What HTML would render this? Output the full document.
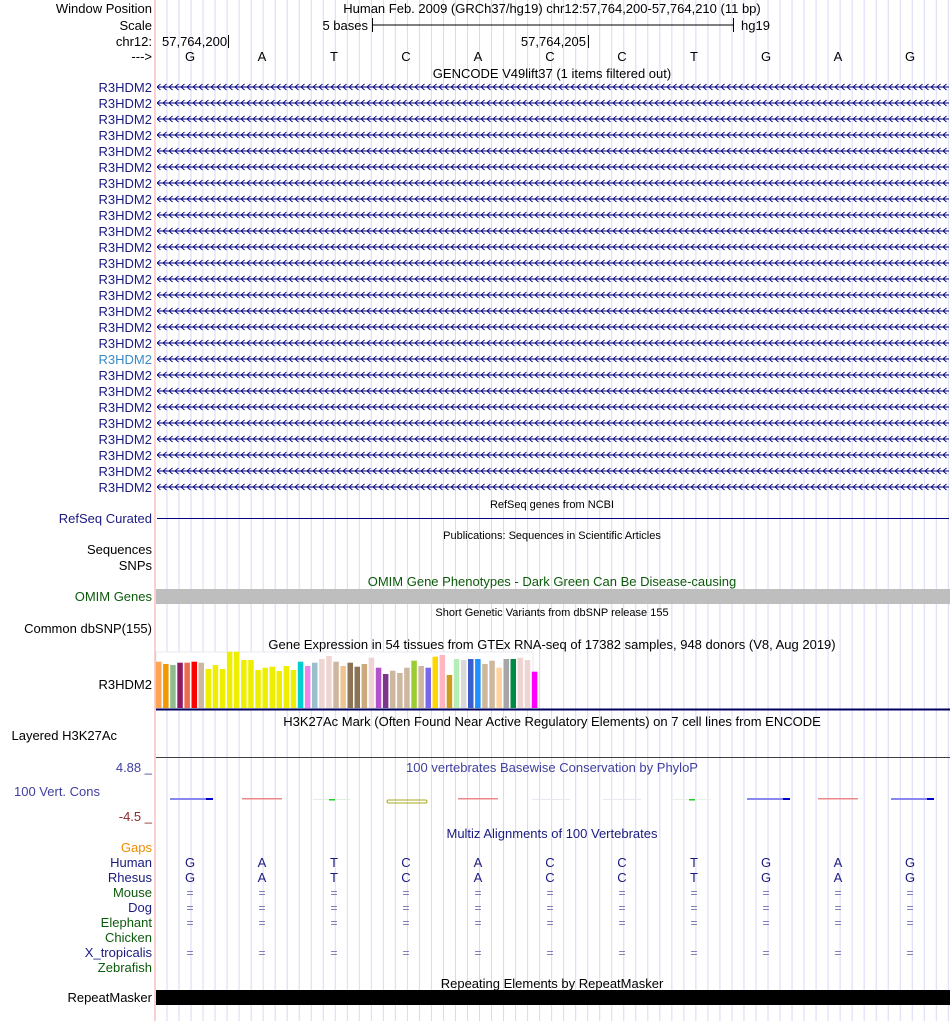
<!DOCTYPE html>
<html><head><meta charset="utf-8"><style>
html,body{margin:0;padding:0;background:#fff}
svg{display:block}
text{font-family:"Liberation Sans",Arial,sans-serif}
</style></head><body>
<svg width="950" height="1021" viewBox="0 0 950 1021" xmlns="http://www.w3.org/2000/svg">
<defs>
<pattern id="grid" patternUnits="userSpaceOnUse" x="166.5" y="0" width="12.02" height="10">
<rect x="0" y="0" width="1" height="10" fill="#d8d8f4"/>
</pattern>
<pattern id="chev" patternUnits="userSpaceOnUse" x="0" y="-4" width="6" height="8">
<path d="M4.5,1 L1,4 L4.5,7" fill="none" stroke="#000080" stroke-width="0.9"/>
</pattern>
<g id="gene"><rect x="157" y="-0.5" width="792" height="1" fill="#000080"/><rect x="157" y="-4" width="792" height="8" fill="url(#chev)"/></g>
</defs>
<rect x="156" y="0" width="794" height="1021" fill="url(#grid)"/>
<rect x="154.5" y="0" width="1" height="1021" fill="#f4a0a0"/>

<g font-size="13" text-anchor="end" fill="#000">
<text x="152" y="13">Window Position</text>
<text x="152" y="30">Scale</text>
<text x="152" y="46">chr12:</text>
<text x="152" y="61">---&gt;</text>
</g>
<text x="552" y="13" font-size="13" text-anchor="middle">Human Feb. 2009 (GRCh37/hg19)   chr12:57,764,200-57,764,210 (11 bp)</text>
<text x="368" y="30" font-size="13" text-anchor="end">5 bases</text>
<rect x="372" y="24.5" width="361" height="1" fill="#000"/>
<rect x="372" y="18" width="1" height="14" fill="#000"/>
<rect x="733" y="18" width="1" height="14" fill="#000"/>
<text x="741" y="30" font-size="13">hg19</text>
<text x="162" y="46" font-size="13">57,764,200</text>
<rect x="228" y="35" width="1" height="13" fill="#000"/>
<text x="586" y="46" font-size="13" text-anchor="end">57,764,205</text>
<rect x="588" y="35" width="1" height="13" fill="#000"/>
<g font-size="13" text-anchor="middle">
<text x="190" y="61">G</text><text x="262" y="61">A</text><text x="334" y="61">T</text><text x="406" y="61">C</text><text x="478" y="61">A</text><text x="550" y="61">C</text><text x="622" y="61">C</text><text x="694" y="61">T</text><text x="766" y="61">G</text><text x="838" y="61">A</text><text x="910" y="61">G</text>
</g>
<text x="552" y="78" font-size="13" text-anchor="middle">GENCODE V49lift37 (1 items filtered out)</text>

<g font-size="13" text-anchor="end" fill="#1a1a80">
<text x="152" y="92">R3HDM2</text><text x="152" y="108">R3HDM2</text><text x="152" y="124">R3HDM2</text><text x="152" y="140">R3HDM2</text><text x="152" y="156">R3HDM2</text><text x="152" y="172">R3HDM2</text><text x="152" y="188">R3HDM2</text><text x="152" y="204">R3HDM2</text><text x="152" y="220">R3HDM2</text><text x="152" y="236">R3HDM2</text><text x="152" y="252">R3HDM2</text><text x="152" y="268">R3HDM2</text><text x="152" y="284">R3HDM2</text><text x="152" y="300">R3HDM2</text><text x="152" y="316">R3HDM2</text><text x="152" y="332">R3HDM2</text><text x="152" y="348">R3HDM2</text><text x="152" y="364" fill="#3a8ac8">R3HDM2</text><text x="152" y="380">R3HDM2</text><text x="152" y="396">R3HDM2</text><text x="152" y="412">R3HDM2</text><text x="152" y="428">R3HDM2</text><text x="152" y="444">R3HDM2</text><text x="152" y="460">R3HDM2</text><text x="152" y="476">R3HDM2</text><text x="152" y="492">R3HDM2</text>
</g>
<use href="#gene" y="87"/><use href="#gene" y="103"/><use href="#gene" y="119"/><use href="#gene" y="135"/><use href="#gene" y="151"/><use href="#gene" y="167"/><use href="#gene" y="183"/><use href="#gene" y="199"/><use href="#gene" y="215"/><use href="#gene" y="231"/><use href="#gene" y="247"/><use href="#gene" y="263"/><use href="#gene" y="279"/><use href="#gene" y="295"/><use href="#gene" y="311"/><use href="#gene" y="327"/><use href="#gene" y="343"/><use href="#gene" y="359"/><use href="#gene" y="375"/><use href="#gene" y="391"/><use href="#gene" y="407"/><use href="#gene" y="423"/><use href="#gene" y="439"/><use href="#gene" y="455"/><use href="#gene" y="471"/><use href="#gene" y="487"/>

<text x="552" y="508" font-size="11" text-anchor="middle">RefSeq genes from NCBI</text>
<text x="152" y="523" font-size="13" text-anchor="end" fill="#1a1a80">RefSeq Curated</text>
<rect x="157" y="518" width="792" height="1" fill="#000080"/>
<text x="552" y="539" font-size="11" text-anchor="middle">Publications: Sequences in Scientific Articles</text>
<text x="152" y="554" font-size="13" text-anchor="end">Sequences</text>
<text x="152" y="570" font-size="13" text-anchor="end">SNPs</text>
<text x="552" y="586" font-size="13" text-anchor="middle" fill="#0b5a0b">OMIM Gene Phenotypes - Dark Green Can Be Disease-causing</text>
<text x="152" y="601" font-size="13" text-anchor="end" fill="#0b5a0b">OMIM Genes</text>
<rect x="156" y="589" width="794" height="15" fill="#bebebe"/>
<text x="552" y="616" font-size="11" text-anchor="middle">Short Genetic Variants from dbSNP release 155</text>
<text x="152" y="633" font-size="13" text-anchor="end">Common dbSNP(155)</text>
<text x="552" y="649" font-size="13" text-anchor="middle">Gene Expression in 54 tissues from GTEx RNA-seq of 17382 samples, 948 donors (V8, Aug 2019)</text>
<text x="152" y="689" font-size="13" text-anchor="end">R3HDM2</text>
<rect x="156" y="652" width="377" height="56" fill="#fff" stroke="#e8e8f0" stroke-width="1"/>
<rect x="156" y="708.5" width="794" height="2" fill="#000060"/>

<text x="552" y="726" font-size="13" text-anchor="middle">H3K27Ac Mark (Often Found Near Active Regulatory Elements) on 7 cell lines from ENCODE</text>
<text x="117" y="740" font-size="13" text-anchor="end">Layered H3K27Ac</text>
<rect x="156" y="757" width="794" height="1" fill="#404040"/>

<text x="552" y="772" font-size="13" text-anchor="middle" fill="#3f3f9f">100 vertebrates Basewise Conservation by PhyloP</text>
<text x="152" y="772" font-size="13" text-anchor="end" fill="#3f3f9f">4.88 _</text>
<text x="100" y="796" font-size="13" text-anchor="end" fill="#3f3f9f">100 Vert. Cons</text>
<text x="152" y="821" font-size="13" text-anchor="end" fill="#8b2a2a">-4.5 _</text>
<g>
<rect x="170" y="798" width="43" height="2" fill="#8888ee"/><rect x="206" y="798" width="7" height="2" fill="#0000cc"/>
<rect x="242" y="798" width="40" height="1.5" fill="#ee8888"/>
<rect x="313" y="799" width="37" height="1" fill="#e0f0e0"/><rect x="329" y="799" width="6" height="1.5" fill="#22cc22"/>
<rect x="387" y="800" width="40" height="3" rx="1.5" fill="none" stroke="#a8a820" stroke-width="1"/>
<rect x="458" y="798" width="40" height="1.5" fill="#ee8888"/>
<rect x="532" y="799" width="38" height="1" fill="#e8e8f0"/>
<rect x="603" y="799" width="38" height="1" fill="#e8e8f0"/>
<rect x="673" y="799" width="38" height="1" fill="#e8f0e8"/><rect x="689" y="799" width="6" height="1.5" fill="#22cc22"/>
<rect x="747" y="798" width="43" height="2" fill="#8888ee"/><rect x="783" y="798" width="7" height="2" fill="#0000cc"/>
<rect x="818" y="798" width="40" height="1.5" fill="#ee8888"/>
<rect x="891" y="798" width="43" height="2" fill="#8888ee"/><rect x="927" y="798" width="7" height="2" fill="#0000cc"/>
</g>

<text x="552" y="838" font-size="13" text-anchor="middle" fill="#1a1a80">Multiz Alignments of 100 Vertebrates</text>
<g font-size="13" text-anchor="end">
<text x="152" y="852" fill="#f08c00">Gaps</text>
<text x="152" y="867" fill="#1a1a80">Human</text>
<text x="152" y="882" fill="#1a1a80">Rhesus</text>
<text x="152" y="897" fill="#0b5a0b">Mouse</text>
<text x="152" y="912" fill="#1a1a80">Dog</text>
<text x="152" y="927" fill="#0b5a0b">Elephant</text>
<text x="152" y="942" fill="#0b5a0b">Chicken</text>
<text x="152" y="957" fill="#1a1a80">X_tropicalis</text>
<text x="152" y="972" fill="#0b5a0b">Zebrafish</text>
</g>
<g font-size="13" text-anchor="middle" fill="#1a1a80">
<text x="190" y="867">G</text><text x="262" y="867">A</text><text x="334" y="867">T</text><text x="406" y="867">C</text><text x="478" y="867">A</text><text x="550" y="867">C</text><text x="622" y="867">C</text><text x="694" y="867">T</text><text x="766" y="867">G</text><text x="838" y="867">A</text><text x="910" y="867">G</text>
<text x="190" y="882">G</text><text x="262" y="882">A</text><text x="334" y="882">T</text><text x="406" y="882">C</text><text x="478" y="882">A</text><text x="550" y="882">C</text><text x="622" y="882">C</text><text x="694" y="882">T</text><text x="766" y="882">G</text><text x="838" y="882">A</text><text x="910" y="882">G</text>
</g>
<g font-size="12" text-anchor="middle" fill="#7070b0">
<text x="190" y="897">=</text><text x="262" y="897">=</text><text x="334" y="897">=</text><text x="406" y="897">=</text><text x="478" y="897">=</text><text x="550" y="897">=</text><text x="622" y="897">=</text><text x="694" y="897">=</text><text x="766" y="897">=</text><text x="838" y="897">=</text><text x="910" y="897">=</text>
<text x="190" y="912">=</text><text x="262" y="912">=</text><text x="334" y="912">=</text><text x="406" y="912">=</text><text x="478" y="912">=</text><text x="550" y="912">=</text><text x="622" y="912">=</text><text x="694" y="912">=</text><text x="766" y="912">=</text><text x="838" y="912">=</text><text x="910" y="912">=</text>
<text x="190" y="927">=</text><text x="262" y="927">=</text><text x="334" y="927">=</text><text x="406" y="927">=</text><text x="478" y="927">=</text><text x="550" y="927">=</text><text x="622" y="927">=</text><text x="694" y="927">=</text><text x="766" y="927">=</text><text x="838" y="927">=</text><text x="910" y="927">=</text>
<text x="190" y="957">=</text><text x="262" y="957">=</text><text x="334" y="957">=</text><text x="406" y="957">=</text><text x="478" y="957">=</text><text x="550" y="957">=</text><text x="622" y="957">=</text><text x="694" y="957">=</text><text x="766" y="957">=</text><text x="838" y="957">=</text><text x="910" y="957">=</text>
</g>

<text x="552" y="988" font-size="13" text-anchor="middle">Repeating Elements by RepeatMasker</text>
<text x="152" y="1002" font-size="13" text-anchor="end">RepeatMasker</text>
<rect x="156" y="990" width="794" height="15" fill="#000"/>

<g>
<rect x="156.0" y="661.7" width="5.5" height="46.3" fill="#FFA54F"/>
<rect x="163.1" y="664.0" width="5.5" height="44.0" fill="#EE9A00"/>
<rect x="170.2" y="665.0" width="5.5" height="43.0" fill="#8FBC8F"/>
<rect x="177.3" y="662.7" width="5.5" height="45.3" fill="#8B1C62"/>
<rect x="184.4" y="662.7" width="5.5" height="45.3" fill="#EE6A50"/>
<rect x="191.5" y="661.7" width="5.5" height="46.3" fill="#FF0000"/>
<rect x="198.5" y="662.7" width="5.5" height="45.3" fill="#CDB79E"/>
<rect x="205.6" y="669.0" width="5.5" height="39.0" fill="#EEEE00"/>
<rect x="212.7" y="665.0" width="5.5" height="43.0" fill="#EEEE00"/>
<rect x="219.8" y="669.0" width="5.5" height="39.0" fill="#EEEE00"/>
<rect x="226.9" y="651.7" width="5.5" height="56.3" fill="#EEEE00"/>
<rect x="234.0" y="651.7" width="5.5" height="56.3" fill="#EEEE00"/>
<rect x="241.1" y="660.0" width="5.5" height="48.0" fill="#EEEE00"/>
<rect x="248.2" y="660.0" width="5.5" height="48.0" fill="#EEEE00"/>
<rect x="255.3" y="670.0" width="5.5" height="38.0" fill="#EEEE00"/>
<rect x="262.4" y="667.7" width="5.5" height="40.3" fill="#EEEE00"/>
<rect x="269.5" y="666.7" width="5.5" height="41.3" fill="#EEEE00"/>
<rect x="276.5" y="671.0" width="5.5" height="37.0" fill="#EEEE00"/>
<rect x="283.6" y="666.0" width="5.5" height="42.0" fill="#EEEE00"/>
<rect x="290.7" y="670.0" width="5.5" height="38.0" fill="#EEEE00"/>
<rect x="297.8" y="661.7" width="5.5" height="46.3" fill="#00CED1"/>
<rect x="304.9" y="666.0" width="5.5" height="42.0" fill="#EE82EE"/>
<rect x="312.0" y="662.7" width="5.5" height="45.3" fill="#9AC0CD"/>
<rect x="319.1" y="659.0" width="5.5" height="49.0" fill="#EED5D2"/>
<rect x="326.2" y="656.0" width="5.5" height="52.0" fill="#EED5D2"/>
<rect x="333.3" y="661.7" width="5.5" height="46.3" fill="#CDB79E"/>
<rect x="340.4" y="666.0" width="5.5" height="42.0" fill="#EEC591"/>
<rect x="347.5" y="662.7" width="5.5" height="45.3" fill="#8B7355"/>
<rect x="354.5" y="666.7" width="5.5" height="41.3" fill="#8B7355"/>
<rect x="361.6" y="664.0" width="5.5" height="44.0" fill="#CDAA7D"/>
<rect x="368.7" y="657.7" width="5.5" height="50.3" fill="#EED5D2"/>
<rect x="375.8" y="667.7" width="5.5" height="40.3" fill="#B452CD"/>
<rect x="382.9" y="674.0" width="5.5" height="34.0" fill="#7A378B"/>
<rect x="390.0" y="670.7" width="5.5" height="37.3" fill="#CDB79E"/>
<rect x="397.1" y="673.0" width="5.5" height="35.0" fill="#CDB79E"/>
<rect x="404.2" y="667.7" width="5.5" height="40.3" fill="#CDB79E"/>
<rect x="411.3" y="660.7" width="5.5" height="47.3" fill="#9ACD32"/>
<rect x="418.4" y="666.0" width="5.5" height="42.0" fill="#CDB79E"/>
<rect x="425.5" y="667.7" width="5.5" height="40.3" fill="#7A67EE"/>
<rect x="432.5" y="656.7" width="5.5" height="51.3" fill="#FFD700"/>
<rect x="439.6" y="655.0" width="5.5" height="53.0" fill="#FFB6C1"/>
<rect x="446.7" y="675.0" width="5.5" height="33.0" fill="#CD9B1D"/>
<rect x="453.8" y="659.0" width="5.5" height="49.0" fill="#B4EEB4"/>
<rect x="460.9" y="660.0" width="5.5" height="48.0" fill="#D9D9D9"/>
<rect x="468.0" y="659.0" width="5.5" height="49.0" fill="#3A5FCD"/>
<rect x="475.1" y="659.0" width="5.5" height="49.0" fill="#1E90FF"/>
<rect x="482.2" y="664.0" width="5.5" height="44.0" fill="#CDB79E"/>
<rect x="489.3" y="660.7" width="5.5" height="47.3" fill="#CDB79E"/>
<rect x="496.4" y="667.7" width="5.5" height="40.3" fill="#FFD39B"/>
<rect x="503.5" y="659.0" width="5.5" height="49.0" fill="#A6A6A6"/>
<rect x="510.5" y="659.0" width="5.5" height="49.0" fill="#008B45"/>
<rect x="517.6" y="657.7" width="5.5" height="50.3" fill="#EED5D2"/>
<rect x="524.7" y="660.0" width="5.5" height="48.0" fill="#EED5D2"/>
<rect x="531.8" y="671.7" width="5.5" height="36.3" fill="#FF00FF"/>
</g>
</svg>
</body></html>
